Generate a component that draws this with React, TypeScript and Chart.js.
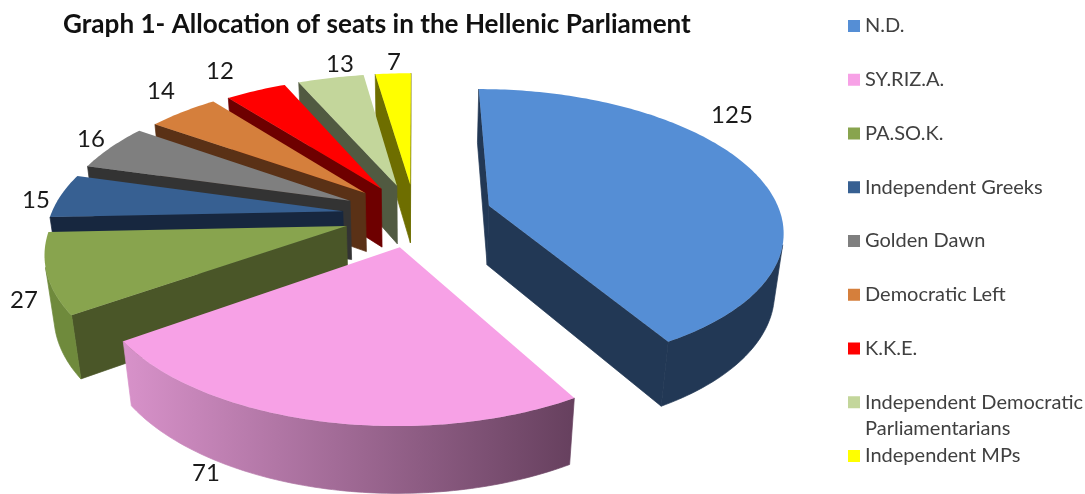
import React, { useEffect, useRef } from "react";
import { Chart, PieController, ArcElement, Title } from "chart.js";

const parties = [
  "N.D.",
  "SY.RIZ.A.",
  "PA.SO.K.",
  "Independent Greeks",
  "Golden Dawn",
  "Democratic Left",
  "K.K.E.",
  "Independent Democratic Parliamentarians",
  "Independent MPs",
];
const seats = [125, 71, 27, 15, 16, 14, 12, 13, 7];

const topColors = ["#558ed5", "#f7a1e6", "#88a44e", "#376092", "#7f7f7f", "#d57f3c", "#ff0000", "#c3d69b", "#ffff00"];
const cutColors = ["#223855", "#66405e", "#4a5628", "#17273f", "#333333", "#5a3116", "#6e0000", "#515a41", "#6e6e00"];
const rimColors = ["#223855", "", "#6f8a3c", "#17273f", "#333333", "#5a3116", "#6e0000", "#515a41", "#6e6e00"];
const explodeOffsets = [26.5, 23, 24.5, 25, 25, 24, 23, 23, 23];
const labelSpots = [
  [732, 115], [206, 473], [24, 300], [36, 200], [91, 139], [161, 91], [220, 71], [340, 64], [394, 62],
];
const legendRowTop = 26;
const legendRowStep = 53.75;

// Perspective camera used by the extruded pie
const VIEW = { ax: 2.92, ay: 1.383, depth: 0.61, tilt: 0.161, sink: 0.025 };

type Pt = [number, number];

class ExtrudedPieController extends PieController {
  static id = "extrudedPie";

  draw() {
    const chart = this.chart;
    const ctx = chart.ctx;
    const arcs = this.getMeta().data as any[];

    const project = (arc: any, explode: number, mid: number, theta: number | null, h: number): Pt => {
      const r = theta === null ? 0 : 1;
      const u = r * Math.sin(theta ?? 0) + explode * Math.sin(mid);
      const v = r * Math.cos(theta ?? 0) + explode * Math.cos(mid);
      const s = 1 / (1 + VIEW.tilt * v + VIEW.sink * h);
      const R = arc.outerRadius;
      return [arc.x + VIEW.ax * R * u * s, arc.y - VIEW.ay * R * v * s + VIEW.depth * R * h * s];
    };

    const fillPolygon = (pts: Pt[], fill: string | CanvasGradient, seal = false) => {
      ctx.fillStyle = fill;
      ctx.beginPath();
      pts.forEach((p, j) => (j ? ctx.lineTo(p[0], p[1]) : ctx.moveTo(p[0], p[1])));
      ctx.closePath();
      ctx.fill();
      if (seal) {
        // Closes the antialiasing hairline between neighbouring walls
        ctx.strokeStyle = fill;
        ctx.lineWidth = 0.7;
        ctx.stroke();
      }
    };

    const order = arcs
      .map((arc, i) => {
        const mid = (arc.startAngle + arc.endAngle) / 2 + Math.PI / 2;
        const explode = arc.options.offset / arc.outerRadius;
        return { arc, i, mid, explode, back: explode * Math.cos(mid) };
      })
      .sort((a, b) => b.back - a.back);

    for (const { arc, i, mid, explode } of order) {
      const at = (t: number | null, h: number) => project(arc, explode, mid, t, h);
      const t0 = arc.startAngle + Math.PI / 2;
      const t1 = arc.endAngle + Math.PI / 2;
      const steps = Math.max(2, Math.ceil(((t1 - t0) * 180) / Math.PI));
      const rimAngles: number[] = [];
      for (let k = 0; k <= steps; k++) rimAngles.push(t0 + ((t1 - t0) * k) / steps);

      // A wall is visible when its outline winds against the top face
      const faces = (a: number | null, b: number | null) => {
        const q = [at(a, 0), at(b, 0), at(b, 1), at(a, 1)];
        let area = 0;
        q.forEach((p, j) => {
          const o = q[(j + 1) % 4];
          area += p[0] * o[1] - o[0] * p[1];
        });
        return { q, visible: area < 0 };
      };

      // The two flat cut walls
      for (const [a, b] of [[null, t0], [t1, null]] as [number | null, number | null][]) {
        const { q, visible } = faces(a, b);
        if (visible) fillPolygon(q, cutColors[i], true);
      }

      // The curved wall, one polygon per visible run
      let rimFill: string | CanvasGradient = rimColors[i];
      if (!rimFill) {
        const g = ctx.createLinearGradient(at(t1, 0)[0], 0, at(t0, 0)[0], 0);
        g.addColorStop(0, "#d892ca");
        g.addColorStop(1, "#66405e");
        rimFill = g;
      }
      let run: number[] = [];
      const flush = () => {
        if (run.length > 1) {
          fillPolygon([...run.map((t) => at(t, 0)), ...run.slice().reverse().map((t) => at(t, 1))], rimFill, true);
        }
        run = [];
      };
      for (let k = 0; k < steps; k++) {
        if (faces(rimAngles[k], rimAngles[k + 1]).visible) {
          if (!run.length) run.push(rimAngles[k]);
          run.push(rimAngles[k + 1]);
        } else flush();
      }
      flush();

      // Top face
      fillPolygon([at(null, 0), ...rimAngles.map((t) => at(t, 0))], arc.options.backgroundColor);
    }
  }
}

const sideText = {
  id: "sideText",
  afterDraw(chart: any) {
    const ctx = chart.ctx;
    ctx.save();

    // Value labels
    ctx.font = "24px Lato";
    ctx.fillStyle = "#1a1a1a";
    ctx.textAlign = "center";
    ctx.textBaseline = "middle";
    seats.forEach((v, i) => ctx.fillText(String(v), labelSpots[i][0], labelSpots[i][1]));

    // Legend column
    ctx.font = "20px Lato";
    ctx.textAlign = "left";
    chart.data.labels.forEach((name: string, i: number) => {
      const y = legendRowTop + i * legendRowStep;
      ctx.fillStyle = topColors[i];
      ctx.fillRect(848, y - 6, 12, 12);
      ctx.fillStyle = "#404040";
      const words = name.split(" ");
      let line = "";
      let row = 0;
      for (const w of words) {
        const next = line ? line + " " + w : w;
        if (ctx.measureText(next).width > 222 && line) {
          ctx.fillText(line, 865, y + row * 26);
          row++;
          line = w;
        } else line = next;
      }
      ctx.fillText(line, 865, y + row * 26);
    });
    ctx.restore();
  },
};

Chart.register(ExtrudedPieController, ArcElement, Title);

export default function App() {
  const ref = useRef<HTMLCanvasElement>(null);
  useEffect(() => {
    const chart = new Chart(ref.current!, {
      type: "extrudedPie" as any,
      data: {
        labels: parties,
        datasets: [
          {
            data: seats,
            backgroundColor: topColors,
            borderWidth: 0,
            offset: explodeOffsets,
            clip: false,
          } as any,
        ],
      },
      options: {
        animation: false,
        responsive: false,
        maintainAspectRatio: false,
        radius: 100,
        layout: { padding: { left: 63, right: 318, top: 0, bottom: 117 } },
        plugins: {
          title: {
            display: true,
            text: "Graph 1- Allocation of seats in the Hellenic Parliament",
            align: "start",
            color: "#111111",
            font: { family: "Lato", size: 26.1, weight: "bold" },
            padding: { top: 9, bottom: 13 },
          },
          legend: { display: false },
          tooltip: { enabled: false },
        },
      } as any,
      plugins: [sideText],
    });
    return () => chart.destroy();
  }, []);
  return (
    <div style={{ position: "fixed", left: 0, top: 0, width: 1085, height: 494, background: "#fff" }}>
      <canvas ref={ref} width={1085} height={494} style={{ display: "block" }} />
    </div>
  );
}
